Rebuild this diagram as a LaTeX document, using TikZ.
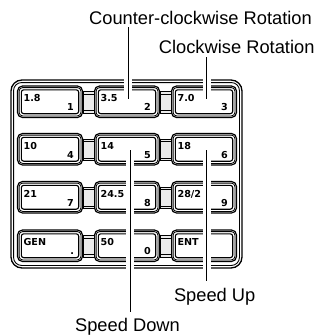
\documentclass[tikz,border=0pt]{standalone}
\usepackage{fontspec}
\setmainfont{Liberation Sans}
\newfontfamily\keyfont{DejaVu Sans}
\usetikzlibrary{calc}
\tikzset{
  keyo/.style={draw, line width=1.2pt, rounded corners=5pt, fill=white, minimum width=65pt, minimum height=31.5pt, inner sep=0pt},
  keyline/.style={line width=0.8pt, rounded corners=3.5pt},
  keytxt/.style={font=\keyfont\bfseries\fontsize{9.6}{9.6}\selectfont, inner sep=0pt},
  lbl/.style={font=\fontsize{18.3}{18.3}\selectfont, inner sep=0pt, anchor=base},
  halo/.style={white, line width=8pt},
  leader/.style={black, line width=0.9pt},
  bridge/.style={draw, line width=0.8pt, fill=black!8},
  panelbox/.style={draw, line width=1.3pt, rounded corners=11pt, minimum width=231pt, minimum height=188pt, inner sep=0pt},
}
\newcommand\kbkey[5]{%
  \node[keyo] (#1) at (#2+32.5,#3+15.75) {};
  \draw[keyline] ([shift={(2.2,2.2)}]#1.north west) rectangle ([shift={(-2.2,-2.2)}]#1.south east);
  \draw[keyline, line width=1.1pt, rounded corners=2.5pt] ([shift={(4.4,4.4)}]#1.north west) rectangle ([shift={(-4.4,-4.4)}]#1.south east);
  \node[keytxt, anchor=base west] (#1l) at ([shift={(6.5,16.5)}]#1.north west) {#4};
  \node[keytxt, anchor=base east] (#1r) at ([shift={(-9,-7.5)}]#1.south east) {#5};
}
\newcommand\kbbridge[2]{%
  \draw[bridge] ([shift={(0,6)}]#1.north east) rectangle ([shift={(0,-5)}]#2.south west);
  \draw[line width=0.6pt] ([shift={(0,8.5)}]#1.north east) -- ([shift={(0,8.5)}]#2.north west);
  \draw[line width=0.6pt] ([shift={(0,-7.5)}]#1.south east) -- ([shift={(0,-7.5)}]#2.south west);
}
\begin{document}
\begin{tikzpicture}[x=1pt,y=-1pt]
\useasboundingbox (0,0) rectangle (320,335);
% panel
\node[panelbox] (panel) at (126.5,174) {};
\draw[line width=0.9pt, rounded corners=8pt] ([shift={(3.2,3.2)}]panel.north west) rectangle ([shift={(-3.2,-3.2)}]panel.south east);
% keys
\kbkey{k1}{17.5}{86}{1.8}{1}
\kbkey{k2}{94.5}{86}{3.5}{2}
\kbkey{k3}{171.5}{86}{7.0}{3}
\kbkey{k4}{17.5}{133.5}{10}{4}
\kbkey{k5}{94.5}{133.5}{14}{5}
\kbkey{k6}{171.5}{133.5}{18}{6}
\kbkey{k7}{17.5}{181.5}{21}{7}
\kbkey{k8}{94.5}{181.5}{24.5}{8}
\kbkey{k9}{171.5}{181.5}{28/2}{9}
\kbkey{k10}{17.5}{230}{GEN}{.}
\kbkey{k11}{94.5}{230}{50}{0}
\kbkey{k12}{171.5}{230}{ENT}{}
% bridges
\kbbridge{k1}{k2}\kbbridge{k2}{k3}
\kbbridge{k4}{k5}\kbbridge{k5}{k6}
\kbbridge{k7}{k8}\kbbridge{k8}{k9}
\kbbridge{k10}{k11}\kbbridge{k11}{k12}
% labels
\node[lbl] (ccw) at (200.5,24.3) {Counter-clockwise Rotation};
\node[lbl] (cw) at (236.7,53.3) {Clockwise Rotation};
\node[lbl] (up) at (214.7,301.7) {Speed Up};
\node[lbl] (down) at (127.5,331.7) {Speed Down};
% leader lines
\coordinate (ccwB) at (128.3,99);
\coordinate (ccwA) at ($(ccw.south -| ccwB)+(0,2.7)$);
\coordinate (cwB) at (206.7,99);
\coordinate (cwA) at ($(cw.south -| cwB)+(0,3.7)$);
\coordinate (upA) at (206.7,150);
\coordinate (upB) at ($(up.north -| upA)+(0,-7.6)$);
\coordinate (downA) at (130,150);
\coordinate (downB) at ($(down.north -| downA)+(0,-6.6)$);
\foreach \a/\b in {ccwA/ccwB, cwA/cwB, upA/upB, downA/downB}{
  \draw[halo] (\a) -- (\b);
  \draw[leader] (\a) -- (\b);
}
\end{tikzpicture}
\end{document}
